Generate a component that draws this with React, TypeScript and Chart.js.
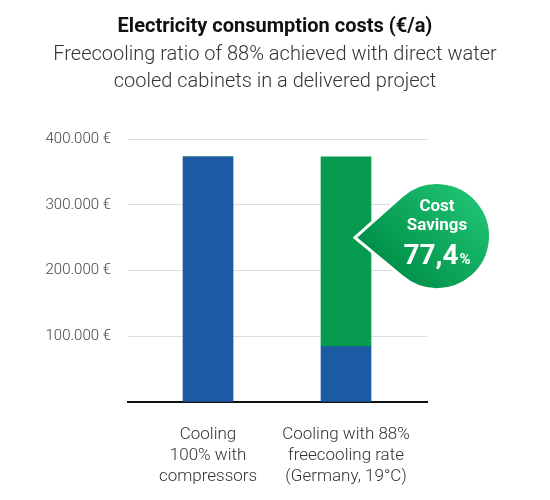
import { useEffect, useRef } from 'react';
import { Chart, registerables } from 'chart.js';

Chart.register(...registerables);

// data
const title = 'Electricity consumption costs (€/a)';
const subtitleLines = [
  'Freecooling ratio of 88% achieved with direct water',
  'cooled cabinets in a delivered project',
];
const categories = [
  ['Cooling', '100% with', 'compressors'],
  ['Cooling with 88%', 'freecooling rate', '(Germany, 19°C)'],
];
const compressorCosts = [373000, 84300];
const freecoolingSavings = [0, 288700];
const yTickValues = [0, 100000, 200000, 300000, 400000];
const savingsLines = ['Cost', 'Savings'];
const savingsValue = '77,4';
const savingsUnit = '%';
const savingsAnchor = 250000; // where the bubble's tip points on the y scale

const BLUE = '#1c5aa3';
const GREEN = '#079b4f';
const SUBTITLE_WIDTH = 460; // the subtitle is set in a condensed face

const formatEuro = (v: number): string =>
  v === 0 ? '' : String(v).replace(/\B(?=(\d{3})+(?!\d))/g, '.') + ' €';

// title + condensed subtitle
const headerPlugin = {
  id: 'header',
  beforeDraw(chart: any) {
    const { ctx, width } = chart;
    const cx = width / 2;
    ctx.save();
    ctx.textAlign = 'center';
    ctx.textBaseline = 'alphabetic';
    ctx.fillStyle = '#111';
    ctx.font = 'bold 20px Roboto';
    ctx.fillText(title, cx, 32);

    ctx.fillStyle = '#333';
    ctx.font = '300 20px Roboto';
    const sx = Math.min(1, SUBTITLE_WIDTH / ctx.measureText(subtitleLines[0]).width);
    subtitleLines.forEach((line, i) => {
      ctx.save();
      ctx.translate(cx, 60 + i * 26.7);
      ctx.scale(sx, 1);
      ctx.fillText(line, 0, 0);
      ctx.restore();
    });
    ctx.restore();
  },
};

// speech bubble with the cost savings
const bubblePlugin = {
  id: 'savingsBubble',
  afterDatasetsDraw(chart: any) {
    const { ctx, scales } = chart;
    const tipX = scales.x.getPixelForValue(1) + 9;
    const tipY = scales.y.getPixelForValue(savingsAnchor);
    const r = 53.5;
    const cx = tipX + 82;
    const cy = tipY - 1.5;
    const d = Math.hypot(cx - tipX, cy - tipY);
    const beta = Math.PI / 2 - Math.asin(r / d);

    ctx.save();
    ctx.beginPath();
    ctx.moveTo(tipX, tipY);
    ctx.arc(cx, cy, r, Math.PI + beta, Math.PI - beta);
    ctx.closePath();
    const grad = ctx.createLinearGradient(cx + r * 0.7, cy - r * 0.7, cx - r * 0.7, cy + r * 0.7);
    grad.addColorStop(0, '#1fc172');
    grad.addColorStop(1, '#00924a');
    ctx.fillStyle = grad;
    ctx.fill();
    ctx.lineWidth = 3;
    ctx.strokeStyle = '#ffffff';
    ctx.stroke();

    ctx.fillStyle = '#ffffff';
    ctx.textAlign = 'center';
    ctx.textBaseline = 'middle';
    ctx.font = 'bold 17px Roboto';
    ctx.fillText(savingsLines[0], cx, cy - 29);
    ctx.fillText(savingsLines[1], cx, cy - 10);

    ctx.textBaseline = 'alphabetic';
    ctx.font = 'bold 28px Roboto';
    const wBig = ctx.measureText(savingsValue).width;
    ctx.font = 'bold 15px Roboto';
    const wSmall = ctx.measureText(savingsUnit).width;
    const startX = cx - (wBig + wSmall + 1) / 2;
    ctx.textAlign = 'left';
    ctx.font = 'bold 28px Roboto';
    ctx.fillText(savingsValue, startX, cy + 28);
    ctx.font = 'bold 15px Roboto';
    ctx.fillText(savingsUnit, startX + wBig + 1, cy + 28);
    ctx.restore();
  },
};

const CostChart = () => {
  const chartRef = useRef<HTMLCanvasElement>(null);
  const chartInstance = useRef<Chart | null>(null);

  useEffect(() => {
    if (!chartRef.current) return;
    if (chartInstance.current) chartInstance.current.destroy();
    const ctx = chartRef.current.getContext('2d');
    if (!ctx) return;

    chartInstance.current = new Chart(ctx, {
      type: 'bar',
      data: {
        datasets: [
          {
            label: 'Compressors',
            data: compressorCosts.map((y, i) => ({ x: i, y })),
            backgroundColor: BLUE,
            barThickness: 50,
          },
          {
            label: 'Freecooling savings',
            data: freecoolingSavings.map((y, i) => ({ x: i, y })),
            backgroundColor: GREEN,
            barThickness: 50,
          },
        ],
      },
      options: {
        animation: false,
        responsive: true,
        maintainAspectRatio: false,
        layout: { padding: { left: 0, right: 123, top: 139, bottom: 0 } },
        plugins: {
          legend: { display: false },
          tooltip: { enabled: false },
          title: { display: false },
        },
        scales: {
          x: {
            type: 'linear',
            stacked: true,
            offset: false,
            min: -0.58,
            max: 1.587,
            afterBuildTicks: (axis: any) => {
              axis.ticks = categories.map((_, i) => ({ value: i }));
            },
            afterFit: (axis: any) => {
              axis.height = 98;
            },
            grid: { display: false },
            border: { display: true, color: '#111', width: 2 },
            ticks: {
              padding: 14,
              maxRotation: 0,
              autoSkip: false,
              color: '#333',
              font: { family: 'Roboto', size: 17, weight: '300', lineHeight: 1.24 },
              callback: (value: any) => categories[value] ?? '',
            },
          },
          y: {
            stacked: true,
            min: 0,
            max: 400000,
            afterBuildTicks: (axis: any) => {
              axis.ticks = yTickValues.map((value) => ({ value }));
            },
            afterFit: (axis: any) => {
              axis.width = 128;
            },
            grid: { color: '#dcdcdc', lineWidth: 1, drawTicks: false },
            border: { display: false },
            ticks: {
              padding: 17,
              color: '#444',
              font: { family: 'Roboto', size: 15, weight: '300' },
              callback: (value: any) => formatEuro(Number(value)),
            },
          },
        },
      },
      plugins: [headerPlugin, bubblePlugin],
    });

    return () => {
      if (chartInstance.current) {
        chartInstance.current.destroy();
        chartInstance.current = null;
      }
    };
  }, []);

  return (
    <div style={{ position: 'fixed', left: 0, top: 0, width: 550, height: 500, background: '#fff' }}>
      <canvas ref={chartRef} />
    </div>
  );
};

export default function App() {
  return <CostChart />;
}
